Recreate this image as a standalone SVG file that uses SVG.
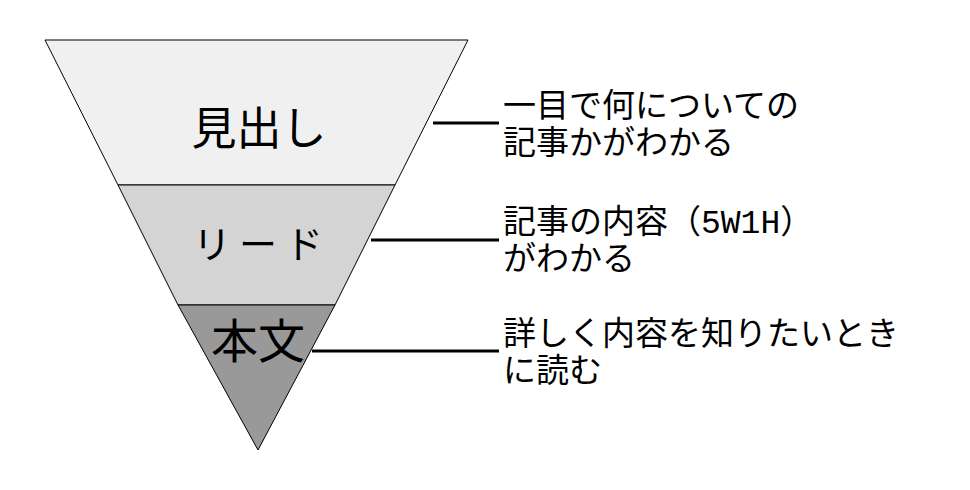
<svg xmlns="http://www.w3.org/2000/svg" width="970" height="490" viewBox="0 0 970 490">
<style>
.b{stroke:#000;stroke-width:1}
.t{font-family:"Liberation Serif","Noto Sans CJK JP",serif;fill:#000}
.c{stroke:#000;stroke-width:3;fill:none}
</style>
<rect width="970" height="490" fill="#fff"/>
<g id="n1"><polygon class="b" points="45,40 468,40 395,185 118,185" fill="#f0f0f0"/><text class="t" x="259" y="145" font-size="45" text-anchor="middle">見出し</text></g>
<g id="n2"><polygon class="b" points="118,185 395,185 335,305 178,305" fill="#d4d4d4"/><text class="t" x="262" y="258" font-size="38" text-anchor="middle" letter-spacing="8">リード</text></g>
<g id="n3"><polygon class="b" points="178,305 335,305 258,450" fill="#999"/><text class="t" x="258" y="358" font-size="47" text-anchor="middle">本文</text></g>
<g id="connectors">
<line class="c" x1="433" y1="123" x2="499" y2="123"/>
<line class="c" x1="371" y1="240" x2="499" y2="240"/>
<line class="c" x1="312" y1="351" x2="499" y2="351"/>
</g>
<g id="labels" class="t" font-size="33">
<text x="503" y="117">一目で何についての</text>
<text x="503" y="154">記事かがわかる</text>
<text x="503" y="233">記事の内容（<tspan font-family="Liberation Mono,monospace">5W1H</tspan>）</text>
<text x="503" y="270">がわかる</text>
<text x="503" y="345">詳しく内容を知りたいとき</text>
<text x="503" y="382">に読む</text>
</g>
</svg>
